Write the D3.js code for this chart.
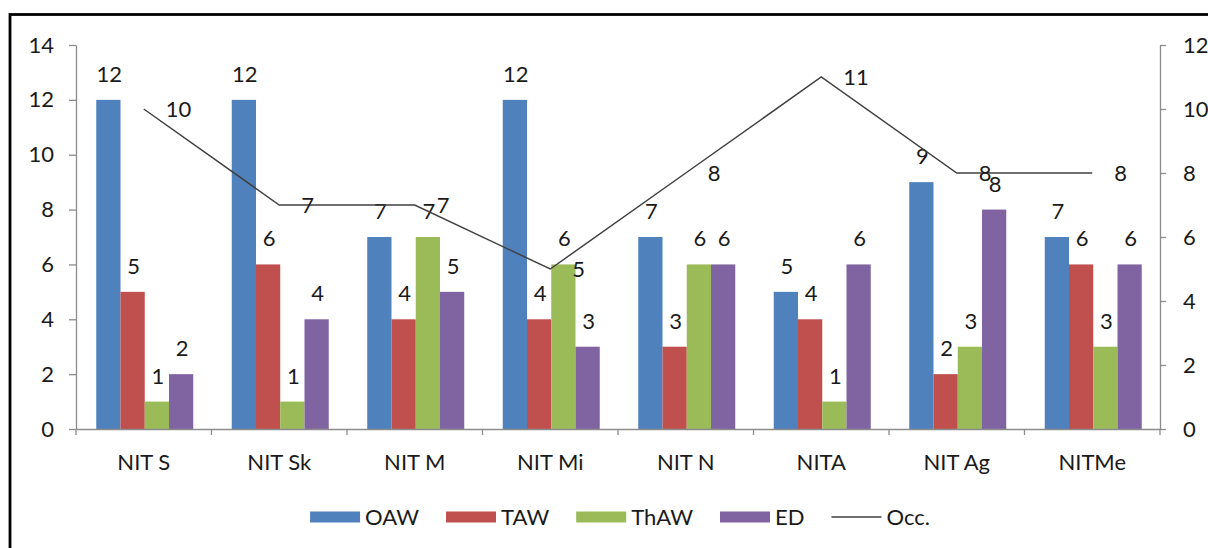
<!DOCTYPE html>
<html>
<head>
<meta charset="utf-8">
<script src="https://cdn.jsdelivr.net/npm/d3@7"></script>
<style>
  html, body { margin: 0; padding: 0; background: #fff; }
  svg { display: block; }
  text { font-family: Lato, "Open Sans", sans-serif; fill: #1a1a1a; }
</style>
</head>
<body>
<svg id="chart" width="1208" height="548"></svg>
<script>
// Institutes on the category axis
const categories = ["NIT S", "NIT Sk", "NIT M", "NIT Mi", "NIT N", "NITA", "NIT Ag", "NITMe"];

// Bar series (left axis)
const oaw  = [12, 12, 7, 12, 7, 5, 9, 7];
const taw  = [5, 6, 4, 4, 3, 4, 2, 6];
const thaw = [1, 1, 7, 6, 6, 1, 3, 3];
const ed   = [2, 4, 5, 3, 6, 6, 8, 6];

// Line series (right axis)
const occ  = [10, 7, 7, 5, 8, 11, 8, 8];

// Axis ticks
const leftTicks  = [0, 2, 4, 6, 8, 10, 12, 14];
const rightTicks = [0, 2, 4, 6, 8, 10, 12];

const barSeries = [
  { name: "OAW",  values: oaw,  color: "#4F81BD" },
  { name: "TAW",  values: taw,  color: "#C0504D" },
  { name: "ThAW", values: thaw, color: "#9BBB59" },
  { name: "ED",   values: ed,   color: "#8064A2" }
];
const lineSeries = { name: "Occ.", values: occ, color: "#404040" };

const svg = d3.select("#chart");
const axisColor = "#8c8c8c";
const fontSize = 22;

// Plot geometry
const plot = { left: 76, right: 1160, top: 45, bottom: 429 };

const x = d3.scaleBand().domain(categories).range([plot.left, plot.right]);
const groupWidth = 97;
const xs = d3.scaleBand().domain(barSeries.map(s => s.name)).range([0, groupWidth]);
const groupOffset = (x.bandwidth() - groupWidth) / 2 + 1;

const yL = d3.scaleLinear().domain([0, 14]).range([plot.bottom, plot.top]);
const yR = d3.scaleLinear().domain([0, 12]).range([plot.bottom, plot.top]);

// Outer chart frame
svg.append("rect")
  .attr("x", 10).attr("y", 14.5)
  .attr("width", 1400).attr("height", 700)
  .attr("fill", "none").attr("stroke", "#000").attr("stroke-width", 2.8);

// Bars
const bars = svg.append("g");
barSeries.forEach(s => {
  bars.selectAll(null)
    .data(s.values.map((v, i) => ({ cat: categories[i], v })))
    .join("rect")
    .attr("x", d => x(d.cat) + groupOffset + xs(s.name))
    .attr("y", d => yL(d.v))
    .attr("width", xs.bandwidth())
    .attr("height", d => yL(0) - yL(d.v))
    .attr("fill", s.color);
});

// Left axis
const leftAxis = svg.append("g")
  .attr("transform", `translate(${plot.left},0)`)
  .call(d3.axisLeft(yL).tickValues(leftTicks).tickSize(7).tickPadding(15).tickSizeOuter(0));
// Right axis
const rightAxis = svg.append("g")
  .attr("transform", `translate(${plot.right},0)`)
  .call(d3.axisRight(yR).tickValues(rightTicks).tickSize(6).tickPadding(17).tickSizeOuter(0));
// Category axis
const bottomAxis = svg.append("g")
  .attr("transform", `translate(0,${plot.bottom})`)
  .call(d3.axisBottom(x).tickSize(0).tickPadding(25).tickSizeOuter(0));

[leftAxis, rightAxis, bottomAxis].forEach(g => {
  g.select(".domain").attr("stroke", axisColor).attr("stroke-width", 1.3);
  g.selectAll(".tick line").attr("stroke", axisColor).attr("stroke-width", 1.3);
  g.selectAll("text")
    .style("font-family", "Lato, 'Open Sans', sans-serif")
    .style("font-size", fontSize + "px")
    .attr("fill", "#1a1a1a");
});

// Category boundary ticks
const boundaries = categories.map(c => x(c)).concat([plot.right]);
bottomAxis.selectAll(".bound")
  .data(boundaries)
  .join("line")
  .attr("x1", d => d).attr("x2", d => d)
  .attr("y1", 0).attr("y2", 6)
  .attr("stroke", axisColor).attr("stroke-width", 1.3);

// Bar value labels
const barLabels = svg.append("g");
barSeries.forEach(s => {
  barLabels.selectAll(null)
    .data(s.values.map((v, i) => ({ cat: categories[i], v })))
    .join("text")
    .attr("x", d => x(d.cat) + groupOffset + xs(s.name) + xs.bandwidth() / 2 + 1)
    .attr("y", d => yL(d.v) - 18)
    .attr("text-anchor", "middle")
    .style("font-size", fontSize + "px")
    .text(d => d.v);
});

// Occ. line
const line = d3.line()
  .x((d, i) => x(categories[i]) + x.bandwidth() / 2)
  .y(d => yR(d));
svg.append("path")
  .datum(lineSeries.values)
  .attr("d", line)
  .attr("fill", "none")
  .attr("stroke", lineSeries.color)
  .attr("stroke-width", 1.5);

// Occ. value labels, to the right of each point
svg.append("g").selectAll("text")
  .data(lineSeries.values)
  .join("text")
  .attr("x", (d, i) => x(categories[i]) + x.bandwidth() / 2 + 22)
  .attr("y", d => yR(d) + 8)
  .attr("text-anchor", "start")
  .style("font-size", fontSize + "px")
  .text(d => d);

// Legend
const legendItems = barSeries.map(s => ({ name: s.name, color: s.color, type: "bar" }))
  .concat([{ name: lineSeries.name, color: lineSeries.color, type: "line" }]);
const legend = svg.append("g");
const swatchW = 50, swatchH = 11, gapText = 5, gapItem = 27;
const legendY = 517;
let cursor = 0;
legendItems.forEach(item => {
  const g = legend.append("g").attr("transform", `translate(${cursor},0)`);
  if (item.type === "bar") {
    g.append("rect")
      .attr("x", 0).attr("y", legendY - swatchH / 2)
      .attr("width", swatchW).attr("height", swatchH)
      .attr("fill", item.color);
  } else {
    g.append("line")
      .attr("x1", 0).attr("x2", swatchW)
      .attr("y1", legendY).attr("y2", legendY)
      .attr("stroke", item.color).attr("stroke-width", 1.5);
  }
  const t = g.append("text")
    .attr("x", swatchW + gapText)
    .attr("y", legendY + 7.5)
    .style("font-size", fontSize + "px")
    .text(item.name);
  const w = t.node().getComputedTextLength();
  cursor += swatchW + gapText + w + gapItem;
});
const legendWidth = cursor - gapItem;
legend.attr("transform", `translate(${(plot.left + plot.right) / 2 - legendWidth / 2 + 2},0)`);
</script>
</body>
</html>
